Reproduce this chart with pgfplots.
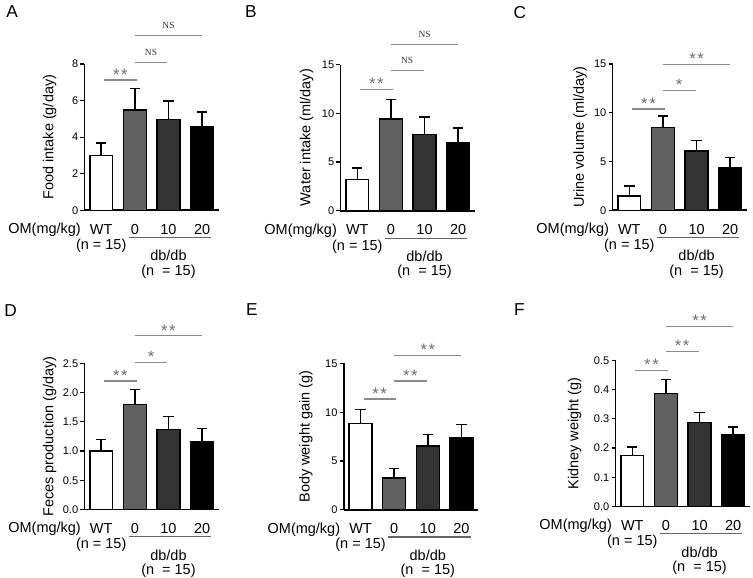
\documentclass[border=0pt]{standalone}
\usepackage{pgfplots}
\pgfplotsset{compat=1.18}
\usepackage{fontspec}
\setmainfont{Liberation Sans}
\newfontfamily\seriffont{Liberation Serif}
\definecolor{barB}{HTML}{616161}
\definecolor{barC}{HTML}{333333}
\definecolor{barD}{HTML}{000000}
\definecolor{sigline}{HTML}{8A8A8A}
\definecolor{sigtext}{HTML}{6E6E6E}
\newcommand{\xfont}{\fontsize{10.9}{12}\selectfont}
\newcommand{\yfont}{\fontsize{8.3}{10}\selectfont}
\newcommand{\lfont}{\fontsize{13}{15}\selectfont}
\newcommand{\sst}{*\kern1.2pt*}
\pgfplotsset{
  panel/.style={
    scale only axis, width=101.25pt, height=110pt,
    anchor=south west, clip=false,
    axis lines=left, axis line style={-, line width=1.3pt},
    xmin=-0.5, xmax=3.5, ymin=0,
    xtick={0,1,2,3}, xticklabels={WT,0,10,20},
    x tick style={draw=none},
    tick align=outside, major tick length=3pt,
    y tick style={line width=1pt, black},
    /pgf/number format/assume math mode=true,
    yticklabel style={font=\yfont, inner sep=1.5pt},
    xticklabel style={font=\xfont, anchor=base, yshift=-15pt},
    every axis y label/.style={rotate=90, anchor=center, font=\xfont},
  },
  onedec/.style={yticklabel style={/pgf/number format/fixed, /pgf/number format/fixed zerofill, /pgf/number format/precision=1}},
  bar/.style={ybar, bar width=0.68, bar shift=0pt, draw=black, line width=1.1pt, fill=#1,
    error bars/.cd, y dir=plus, y explicit,
    error bar style={line width=1.1pt, black},
    error mark options={rotate=90, line width=1.1pt, black, mark size=3.9pt}},
}
% significance: x1, x2, xmid, y, text
\newcommand{\sigS}[5]{%
  \draw[sigline, line width=0.9pt] (axis cs:#1,#4) -- (axis cs:#2,#4);
  \node[anchor=base, inner sep=0pt, text=sigtext, font=\fontsize{12.5}{13}\selectfont] at ([yshift=-0.3pt]axis cs:#3,#4) {#5};}
\newcommand{\sigN}[5]{%
  \draw[sigline, line width=0.9pt] (axis cs:#1,#4) -- (axis cs:#2,#4);
  \node[anchor=base, inner sep=0pt, text=black!80, font=\seriffont\fontsize{7.1}{8}\selectfont] at ([yshift=5.25pt]axis cs:#3,#4) {#5};}
\newcommand{\groups}{%
  \node[anchor=base east, inner sep=0pt, font=\xfont] at ([yshift=-17.6pt]axis cs:-0.6,0) {OM(mg/kg)};
  \node[anchor=base, inner sep=0pt, font=\xfont] at ([yshift=-29.6pt]axis cs:0,0) {(n = 15)};
  \draw[black!60, line width=0.8pt] ([yshift=-20.6pt]axis cs:0.83,0) -- ([yshift=-20.6pt]axis cs:3.27,0);
  \node[anchor=base, inner sep=0pt, font=\xfont] at ([yshift=-38.2pt]axis cs:2,0) {db/db};
  \node[anchor=base, inner sep=0pt, font=\xfont] at ([yshift=-49.1pt]axis cs:2,0) {(n\ \ = 15)};}
\begin{document}
\begin{tikzpicture}
\path (0pt,0pt) rectangle (564.75pt,-435pt);
\node[font=\lfont] at (7.1pt,-9pt) {A};
\node[font=\lfont] at (186.75pt,-9pt) {B};
\node[font=\lfont] at (389.25pt,-9.4pt) {C};
\node[font=\lfont] at (6pt,-233.6pt) {D};
\node[font=\lfont] at (187.5pt,-233.25pt) {E};
\node[font=\lfont] at (388.9pt,-233.25pt) {F};
% A
\begin{axis}[panel, at={(61.5pt,-158.25pt)}, ymax=8, ytick={0,2,4,6,8},
  ylabel={Food intake (g/day)}, ylabel style={at={(axis description cs:-0.259,0.5)}}]
\addplot[bar=white] coordinates {(0,3.0) +- (0,0.67)};
\addplot[bar=barB] coordinates {(1,5.48) +- (0,1.17)};
\addplot[bar=barC] coordinates {(2,4.98) +- (0,1.0)};
\addplot[bar=barD] coordinates {(3,4.57) +- (0,0.8)};
\sigS{0.09}{1.05}{0.57}{7.13}{\sst}
\sigN{1.0}{1.97}{1.48}{8.1}{NS}
\sigN{1.0}{2.99}{2.0}{9.55}{NS}
\groups
\end{axis}
% B
\begin{axis}[panel, at={(254.25pt,-158.6pt)}, ymax=15, ytick={0,5,10,15},
  ylabel={Water intake (ml/day)}, ylabel style={at={(axis description cs:-0.252,0.5)}}]
\addplot[bar=white] coordinates {(0,3.21) +- (0,1.16)};
\addplot[bar=barB] coordinates {(1,9.43) +- (0,1.97)};
\addplot[bar=barC] coordinates {(2,7.82) +- (0,1.78)};
\addplot[bar=barD] coordinates {(3,7.0) +- (0,1.5)};
\sigS{0.09}{1.05}{0.57}{12.44}{\sst}
\sigN{1.0}{1.97}{1.48}{14.35}{NS}
\sigN{1.0}{2.99}{2.0}{17.1}{NS}
\groups
\end{axis}
% C
\begin{axis}[panel, at={(459pt,-158.25pt)}, ymax=15, ytick={0,5,10,15},
  ylabel={Urine volume (ml/day)}, ylabel style={at={(axis description cs:-0.241,0.5)}}]
\addplot[bar=white] coordinates {(0,1.48) +- (0,1.02)};
\addplot[bar=barB] coordinates {(1,8.5) +- (0,1.16)};
\addplot[bar=barC] coordinates {(2,6.08) +- (0,1.09)};
\addplot[bar=barD] coordinates {(3,4.4) +- (0,1.0)};
\sigS{0.09}{1.05}{0.57}{10.4}{\sst}
\sigS{1.0}{1.97}{1.48}{12.3}{*}
\sigS{1.0}{2.99}{2.0}{15.0}{\sst}
\groups
\end{axis}
% D
\begin{axis}[panel, onedec, at={(61.5pt,-383.5pt)}, ymax=2.5, ytick={0,0.5,1,1.5,2,2.5},
  ylabel={Feces production (g/day)}, ylabel style={at={(axis description cs:-0.259,0.5)}}]
\addplot[bar=white] coordinates {(0,1.0) +- (0,0.2)};
\addplot[bar=barB] coordinates {(1,1.80) +- (0,0.25)};
\addplot[bar=barC] coordinates {(2,1.37) +- (0,0.22)};
\addplot[bar=barD] coordinates {(3,1.16) +- (0,0.23)};
\sigS{0.09}{1.05}{0.57}{2.2}{\sst}
\sigS{1.0}{1.97}{1.48}{2.52}{*}
\sigS{1.0}{2.99}{2.0}{2.97}{\sst}
\groups
\end{axis}
% E
\begin{axis}[panel, at={(256.7pt,-383.6pt)}, ymax=15, ytick={0,5,10,15},
  ylabel={Body weight gain (g)}, ylabel style={at={(axis description cs:-0.281,0.5)}}]
\addplot[bar=white] coordinates {(0,8.82) +- (0,1.48)};
\addplot[bar=barB] coordinates {(1,3.26) +- (0,0.94)};
\addplot[bar=barC] coordinates {(2,6.53) +- (0,1.17)};
\addplot[bar=barD] coordinates {(3,7.35) +- (0,1.37)};
\sigS{0.09}{1.05}{0.57}{11.35}{\sst}
\sigS{1.0}{1.97}{1.48}{13.2}{\sst}
\sigS{1.0}{2.99}{2.0}{15.85}{\sst}
\groups
\end{axis}
% F
\begin{axis}[panel, onedec, at={(461.25pt,-381.2pt)}, ymax=0.5, ytick={0,0.1,0.2,0.3,0.4,0.5},
  ylabel={Kidney weight (g)}, ylabel style={at={(axis description cs:-0.304,0.5)}}]
\addplot[bar=white] coordinates {(0,0.175) +- (0,0.029)};
\addplot[bar=barB] coordinates {(1,0.386) +- (0,0.048)};
\addplot[bar=barC] coordinates {(2,0.288) +- (0,0.034)};
\addplot[bar=barD] coordinates {(3,0.245) +- (0,0.027)};
\sigS{0.09}{1.05}{0.57}{0.466}{\sst}
\sigS{1.0}{1.97}{1.48}{0.53}{\sst}
\sigS{1.0}{2.99}{2.0}{0.616}{\sst}
\groups
\end{axis}
\end{tikzpicture}
\end{document}
